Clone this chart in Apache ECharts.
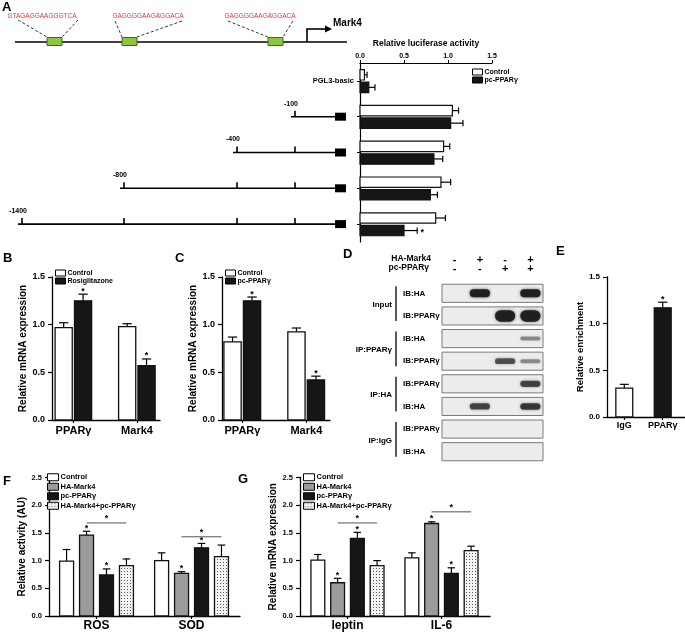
<!DOCTYPE html>
<html><head><meta charset="utf-8">
<script src="https://cdn.jsdelivr.net/npm/echarts@6.0.0/dist/echarts.min.js"></script>
<style>html,body{margin:0;padding:0;background:#fff;}#c{width:685px;height:635px;}</style>
</head><body><div id="c"></div>
<script>
// ===================== DATA =====================
// Panel A
const aRows = ['PGL3-basic', '-100', '-400', '-800', '-1400'];
const aControl = [0.05, 1.05, 0.95, 0.92, 0.86];
const aControlErr = [0.03, 0.07, 0.07, 0.11, 0.11];
const aPc = [0.10, 1.03, 0.84, 0.80, 0.50];
const aPcErr = [0.07, 0.14, 0.10, 0.08, 0.15];
const aPcStar = [0, 0, 0, 0, 1];
const promoterSites = ['GTAGAGGAAGGGTCA', 'GAGGGGAAGAGGACA', 'GAGGGGAAGAGGACA'];
const constructLabels = ['-100', '-400', '-800', '-1400'];
// Panel B
const bCats = ['PPARγ', 'Mark4'];
const bControl = [0.97, 0.98], bControlErr = [0.05, 0.03];
const bRosi = [1.25, 0.57], bRosiErr = [0.07, 0.07], bRosiStar = [1, 1];
// Panel C
const cCats = ['PPARγ', 'Mark4'];
const cControl = [0.82, 0.925], cControlErr = [0.05, 0.04];
const cPc = [1.25, 0.42], cPcErr = [0.04, 0.04], cPcStar = [1, 1];
// Panel D (co-IP blot)
const laneHA = ['-', '+', '-', '+'];
const lanePC = ['-', '-', '+', '+'];
const blotRows = ['IB:HA', 'IB:PPARγ', 'IB:HA', 'IB:PPARγ', 'IB:PPARγ', 'IB:HA', 'IB:PPARγ', 'IB:HA'];
const blotGroups = [['Input', 0, 1], ['IP:PPARγ', 2, 3], ['IP:HA', 4, 5], ['IP:IgG', 6, 7]];
const blotBands = [ // [lane, row, signal]
  [1, 0, 0.55], [3, 0, 0.55],
  [2, 1, 0.95], [3, 1, 0.95],
  [3, 2, 0.10],
  [2, 3, 0.30], [3, 3, 0.10],
  [3, 4, 0.35],
  [1, 5, 0.35], [3, 5, 0.40]
];
// Panel E
const eCats = ['IgG', 'PPARγ'];
const eValues = [0.31, 1.17], eErr = [0.04, 0.06], eStar = [0, 1];
// Panel F
const fCats = ['ROS', 'SOD'];
const fControl = [0.99, 1.00], fControlErr = [0.21, 0.14];
const fHA = [1.46, 0.77], fHAErr = [0.07, 0.03], fHAStar = [1, 1];
const fPc = [0.74, 1.23], fPcErr = [0.11, 0.08], fPcStar = [1, 1];
const fCombo = [0.91, 1.07], fComboErr = [0.12, 0.21];
const fSig = [[0, 1, 3, 1.68], [1, 1, 3, 1.43]]; // [category, fromBar, toBar, level]
// Panel G
const gCats = ['leptin', 'IL-6'];
const gControl = [1.01, 1.05], gControlErr = [0.10, 0.09];
const gHA = [0.60, 1.67], gHAErr = [0.08, 0.03], gHAStar = [1, 1];
const gPc = [1.40, 0.77], gPcErr = [0.11, 0.10], gPcStar = [1, 1];
const gCombo = [0.91, 1.18], gComboErr = [0.09, 0.08];
const gSig = [[0, 1, 3, 1.68], [1, 1, 3, 1.88]];

// ===================== STYLE =====================
const FONT = '"Liberation Sans", Arial, sans-serif';
const WHITE = '#ffffff', BLACK = '#161616', GREY = '#9c9c9c';
const pat = document.createElement('canvas'); pat.width = 3; pat.height = 3;
(function () { const c = pat.getContext('2d'); c.fillStyle = '#f4f4f4'; c.fillRect(0, 0, 3, 3); c.fillStyle = '#555'; c.fillRect(1, 1, 1, 1); })();
const DOTS = { image: pat, repeat: 'repeat' };

const chart = echarts.init(document.getElementById('c'));

function starText(x, y) {
  return { type: 'text', x: x, y: y, style: { text: '*', align: 'center', verticalAlign: 'middle', textAlign: 'center', textVerticalAlign: 'middle', fontSize: 9, fontWeight: 'bold', fill: '#000', fontFamily: FONT } };
}

function vbar(name, gi, vals, errs, stars, off, w, fill) {
  return {
    type: 'custom', name: name, xAxisIndex: gi, yAxisIndex: gi, z: 3,
    data: vals.map((v, i) => [i, v, errs[i], stars ? stars[i] : 0]),
    encode: { x: 0, y: 1 },
    renderItem: function (params, api) {
      const i = params.dataIndex;
      const c = api.value(0), v = api.value(1), e = api.value(2), s = api.value(3);
      const p0 = api.coord([c + off - w / 2, 0]), p1 = api.coord([c + off + w / 2, v]);
      const pm = api.coord([c + off, v]), pt = api.coord([c + off, v + e]);
      const bw = p1[0] - p0[0], cap = bw * 0.27;
      const f = Array.isArray(fill) ? fill[i] : fill;
      const ch = [
        { type: 'line', shape: { x1: pm[0], y1: pm[1], x2: pt[0], y2: pt[1] }, style: { stroke: '#000', lineWidth: 1.2 } },
        { type: 'line', shape: { x1: pt[0] - cap, y1: pt[1], x2: pt[0] + cap, y2: pt[1] }, style: { stroke: '#000', lineWidth: 1.2 } },
        { type: 'rect', shape: { x: p0[0], y: p1[1], width: bw, height: p0[1] - p1[1] }, style: { fill: f, stroke: '#111', lineWidth: 1.3 } }
      ];
      if (s) ch.push(starText(pt[0], pt[1] - 3));
      return { type: 'group', children: ch };
    }
  };
}

function sigSeries(gi, sig, offs) {
  return {
    type: 'custom', xAxisIndex: gi, yAxisIndex: gi, z: 4,
    data: sig, encode: { x: 0, y: 3 },
    renderItem: function (params, api) {
      const c = api.value(0), a = api.value(1), b = api.value(2), lv = api.value(3);
      const pa = api.coord([c + offs[a], lv]), pb = api.coord([c + offs[b], lv]);
      return { type: 'group', children: [
        { type: 'line', shape: { x1: pa[0], y1: pa[1], x2: pb[0], y2: pb[1] }, style: { stroke: '#555', lineWidth: 1 } },
        starText((pa[0] + pb[0]) / 2, pa[1] - 4)
      ] };
    }
  };
}

function hbar(name, vals, errs, stars, off, h, fill) {
  return {
    type: 'custom', name: name, xAxisIndex: 0, yAxisIndex: 0, z: 3,
    data: vals.map((v, i) => [v, i, errs[i], stars ? stars[i] : 0]),
    encode: { x: 0, y: 1 },
    renderItem: function (params, api) {
      const v = api.value(0), r = api.value(1), e = api.value(2), s = api.value(3);
      const band = api.size([0, 1])[1];
      const p0 = api.coord([0, r]), p1 = api.coord([v, r]), pe = api.coord([v + e, r]);
      const yc = p0[1] + off * band, hh = h * band;
      const ch = [
        { type: 'line', shape: { x1: p1[0], y1: yc, x2: pe[0], y2: yc }, style: { stroke: '#000', lineWidth: 1.2 } },
        { type: 'line', shape: { x1: pe[0], y1: yc - hh * 0.3, x2: pe[0], y2: yc + hh * 0.3 }, style: { stroke: '#000', lineWidth: 1.2 } },
        { type: 'rect', shape: { x: p0[0], y: yc - hh / 2, width: p1[0] - p0[0], height: hh }, style: { fill: fill, stroke: '#111', lineWidth: 1.2 } }
      ];
      if (s) ch.push(starText(pe[0] + 5, yc + 2));
      return { type: 'group', children: ch };
    }
  };
}

function yVal(gi, max, name, gap, nameSize, labSize) {
  return {
    gridIndex: gi, type: 'value', min: 0, max: max, interval: 0.5,
    axisLine: { show: true, onZero: false, lineStyle: { color: '#000', width: 1.3 } },
    axisTick: { show: true, length: 4, lineStyle: { color: '#000', width: 1.2 } },
    axisLabel: { formatter: v => v.toFixed(1), fontSize: labSize, fontWeight: 'bold', color: '#000', margin: 7, fontFamily: FONT },
    splitLine: { show: false },
    name: name, nameLocation: 'middle', nameGap: gap,
    nameTextStyle: { fontSize: nameSize, fontWeight: 'bold', color: '#000', fontFamily: FONT }
  };
}
function xCat(gi, cats, min, max, size, margin) {
  return {
    gridIndex: gi, type: 'value', min: min, max: max,
    axisLine: { show: true, onZero: false, lineStyle: { color: '#000', width: 1.3 } },
    axisTick: { show: true, length: 3, customValues: cats.map((c, i) => i), lineStyle: { color: '#000', width: 1.2 } },
    axisLabel: { customValues: cats.map((c, i) => i), formatter: v => cats[Math.round(v)], fontSize: size, fontWeight: 'bold', color: '#000', margin: margin, fontFamily: FONT },
    splitLine: { show: false }
  };
}
function legendItem(name, color) {
  return { name: name, itemStyle: { color: color, borderColor: '#000', borderWidth: 1 } };
}
function legendBox(left, top, items, w, h, gap, size) {
  return {
    left: left, top: top, orient: 'vertical', padding: 0, itemGap: gap, itemWidth: w, itemHeight: h,
    icon: 'rect', selectedMode: false, data: items,
    textStyle: { fontSize: size, fontWeight: 'bold', color: '#000', fontFamily: FONT, lineHeight: size + 1, padding: [0, 0, 0, -3] }
  };
}

const O2 = [-0.155, 0.15], W2 = 0.27;
const O4 = [-0.315, -0.105, 0.105, 0.315], W4 = 0.147;

const option = {
  animation: false,
  textStyle: { fontFamily: FONT, color: '#000' },
  grid: [
    { left: 360, top: 63, width: 132, height: 179 },      // 0 A
    { left: 52, top: 277, width: 108, height: 143 },      // 1 B
    { left: 222, top: 277, width: 108, height: 143 },     // 2 C
    { left: 442, top: 282, width: 101, height: 181 },     // 3 D
    { left: 607, top: 277, width: 78, height: 140 },      // 4 E
    { left: 49, top: 477.5, width: 191, height: 138.5 },  // 5 F
    { left: 300, top: 477.5, width: 190, height: 138.5 }  // 6 G
  ],
  xAxis: [
    { gridIndex: 0, type: 'value', position: 'top', min: 0, max: 1.5, interval: 0.5,
      axisLine: { show: true, onZero: false, lineStyle: { color: '#000', width: 1.2 } },
      axisTick: { show: true, length: 3, lineStyle: { color: '#000' } },
      axisLabel: { formatter: v => v.toFixed(1), fontSize: 7, fontWeight: 'bold', color: '#000', margin: 3 },
      splitLine: { show: false },
      name: 'Relative luciferase activity', nameLocation: 'middle', nameGap: 15,
      nameTextStyle: { fontSize: 8.5, fontWeight: 'bold', color: '#000' } },
    xCat(1, bCats, -0.339, 1.362, 11, 5),
    xCat(2, cCats, -0.32, 1.37, 11, 5),
    { gridIndex: 3, type: 'category', position: 'top', data: laneHA.map((v, i) => String(i)),
      axisLine: { show: false }, axisTick: { show: false },
      axisLabel: { interval: 0, formatter: (v, i) => laneHA[i] + '\n' + lanePC[i], fontSize: 11, fontWeight: 'bold', color: '#000', lineHeight: 9, margin: 9 } },
    xCat(4, eCats, -0.45, 1.58, 9, 4),
    xCat(5, fCats, -0.5, 1.51, 12, 4),
    xCat(6, gCats, -0.505, 1.516, 12, 4)
  ],
  yAxis: [
    { gridIndex: 0, type: 'category', inverse: true, data: aRows,
      axisLine: { show: true, onZero: false, lineStyle: { color: '#000', width: 1.2 } },
      axisTick: { show: true, alignWithLabel: true, interval: 0, length: 3, lineStyle: { color: '#000' } },
      axisLabel: { interval: 0, formatter: (v, i) => i === 0 ? v : '', fontSize: 7.5, fontWeight: 'bold', color: '#000', margin: 6 } },
    yVal(1, 1.5, 'Relative mRNA expression', 21, 10, 9),
    yVal(2, 1.5, 'Relative mRNA expression', 22, 10, 9),
    { gridIndex: 3, type: 'category', inverse: true, data: blotRows.map((v, i) => String(i)),
      axisLine: { show: false }, axisTick: { show: false },
      axisLabel: { interval: 0, formatter: (v, i) => blotRows[i], align: 'left', margin: 39, fontSize: 8, fontWeight: 'bold', color: '#000' } },
    yVal(4, 1.5, 'Relative enrichment', 16, 9.5, 8),
    yVal(5, 2.5, 'Relative activity (AU)', 20, 10, 7.5),
    yVal(6, 2.5, 'Relative mRNA expression', 21, 10, 7.5)
  ],
  legend: [
    legendBox(472, 68, [legendItem('Control', WHITE), legendItem('pc-PPARγ', BLACK)], 10, 6, 0, 7),
    legendBox(55, 269, [legendItem('Control', WHITE), legendItem('Rosiglitazone', BLACK)], 10, 6, 0, 7),
    legendBox(225, 269, [legendItem('Control', WHITE), legendItem('pc-PPARγ', BLACK)], 10, 6, 0, 7),
    legendBox(47, 473, [legendItem('Control', WHITE), legendItem('HA-Mark4', GREY), legendItem('pc-PPARγ', BLACK), legendItem('HA-Mark4+pc-PPARγ', DOTS)], 11, 7, 1, 7.5),
    legendBox(303, 473, [legendItem('Control', WHITE), legendItem('HA-Mark4', GREY), legendItem('pc-PPARγ', BLACK), legendItem('HA-Mark4+pc-PPARγ', DOTS)], 11, 7, 1, 7.5)
  ],
  series: [
    hbar('Control', aControl, aControlErr, null, -0.17, 0.29, WHITE),
    hbar('pc-PPARγ', aPc, aPcErr, aPcStar, 0.18, 0.29, BLACK),
    vbar('Control', 1, bControl, bControlErr, null, O2[0], W2, WHITE),
    vbar('Rosiglitazone', 1, bRosi, bRosiErr, bRosiStar, O2[1], W2, BLACK),
    vbar('Control', 2, cControl, cControlErr, null, O2[0], W2, WHITE),
    vbar('pc-PPARγ', 2, cPc, cPcErr, cPcStar, O2[1], W2, BLACK),
    // blot boxes
    { type: 'custom', xAxisIndex: 3, yAxisIndex: 3, z: 2,
      data: blotRows.map((r, i) => [0, i]), encode: { x: 0, y: 1 },
      renderItem: function (params, api) {
        const p = api.coord([0, api.value(1)]), band = api.size([0, 1])[1], cs = params.coordSys;
        return { type: 'rect', shape: { x: cs.x, y: p[1] - band * 0.4, width: cs.width, height: band * 0.8 },
          style: { fill: '#ececec', stroke: '#7a7a7a', lineWidth: 1 } };
      } },
    // blot bands
    { type: 'custom', xAxisIndex: 3, yAxisIndex: 3, z: 3,
      data: blotBands, encode: { x: 0, y: 1 },
      renderItem: function (params, api) {
        const p = api.coord([api.value(0), api.value(1)]), s = api.value(2);
        const w = api.size([1, 0])[0] * 0.8, h = 3 + 9 * s, a = Math.min(0.95, 0.3 + 1.2 * s);
        return { type: 'rect', shape: { x: p[0] - w / 2, y: p[1] - h / 2, width: w, height: h, r: h / 2 },
          style: { fill: 'rgba(28,28,28,' + a + ')', shadowBlur: 3, shadowColor: 'rgba(28,28,28,' + (a * 0.8) + ')' } };
      } },
    vbar('E', 4, eValues, eErr, eStar, 0, 0.44, [WHITE, BLACK]),
    vbar('Control', 5, fControl, fControlErr, null, O4[0], W4, WHITE),
    vbar('HA-Mark4', 5, fHA, fHAErr, fHAStar, O4[1], W4, GREY),
    vbar('pc-PPARγ', 5, fPc, fPcErr, fPcStar, O4[2], W4, BLACK),
    vbar('HA-Mark4+pc-PPARγ', 5, fCombo, fComboErr, null, O4[3], W4, DOTS),
    sigSeries(5, fSig, O4),
    vbar('Control', 6, gControl, gControlErr, null, O4[0], W4, WHITE),
    vbar('HA-Mark4', 6, gHA, gHAErr, gHAStar, O4[1], W4, GREY),
    vbar('pc-PPARγ', 6, gPc, gPcErr, gPcStar, O4[2], W4, BLACK),
    vbar('HA-Mark4+pc-PPARγ', 6, gCombo, gComboErr, null, O4[3], W4, DOTS),
    sigSeries(6, gSig, O4)
  ]
};
chart.setOption(option);

// ===================== DIAGRAM / LABELS =====================
const g = [];
function txt(s, x, y, size, opt) {
  opt = opt || {};
  g.push({ type: 'text', x: x, y: y, silent: true, style: { text: s, fontSize: size, fontWeight: opt.weight || 'bold', fill: opt.color || '#000', fontFamily: FONT,
    align: opt.align || 'left', verticalAlign: opt.va || 'middle', textAlign: opt.align || 'left', textVerticalAlign: opt.va || 'middle' } });
}
function ln(x1, y1, x2, y2, w, color, dash) {
  g.push({ type: 'line', silent: true, shape: { x1: x1, y1: y1, x2: x2, y2: y2 }, style: { stroke: color || '#000', lineWidth: w || 1.5, lineDash: dash || null } });
}
function box(x, y, w, h, fill, stroke) {
  g.push({ type: 'rect', silent: true, shape: { x: x, y: y, width: w, height: h }, style: { fill: fill, stroke: stroke || null, lineWidth: 1 } });
}
// panel letters
[['A', 2, 7], ['B', 3, 258], ['C', 175, 258], ['D', 343, 254], ['E', 556, 251], ['F', 3, 481], ['G', 238, 479]].forEach(l => txt(l[0], l[1], l[2], 13));

// promoter diagram
ln(15, 42, 347, 42, 1.6);
const siteBoxes = [47, 122, 268], siteText = [42, 148, 260];
const dashL = [[18, 20], [115, 21], [228, 21]], dashR = [[78, 20], [182, 21], [293, 21]];
promoterSites.forEach((s, i) => {
  txt(s, siteText[i], 16, 6.5, { weight: 'normal', color: '#d23c3c', align: 'center' });
  ln(dashL[i][0], dashL[i][1], siteBoxes[i], 37, 1, '#333', [3, 2]);
  ln(dashR[i][0], dashR[i][1], siteBoxes[i] + 15, 37, 1, '#333', [3, 2]);
  box(siteBoxes[i], 37.5, 15, 8, '#8dc63f', '#3f6b1c');
});
ln(307, 42, 307, 29, 1.6); ln(306.2, 29, 327, 29, 1.6);
g.push({ type: 'polygon', silent: true, shape: { points: [[325, 25.5], [332, 29], [325, 32.5]] }, style: { fill: '#000' } });
txt('Mark4', 333, 23, 10);

// construct schematic (rows aligned with panel A categories)
const schemTick = [295, 237, 124, 22], schemEnd = 335;
constructLabels.forEach((lab, k) => {
  const row = aRows.indexOf(lab);
  const y = chart.convertToPixel({ xAxisIndex: 0, yAxisIndex: 0 }, [0, row])[1];
  ln(schemTick[k] - 4, y, schemEnd, y, 1.6);
  for (let j = 0; j <= k; j++) ln(schemTick[j], y - 6, schemTick[j], y, 1.6);
  box(schemEnd, y - 4, 11, 8, '#000');
  txt(lab, schemTick[k] - 4, y - 13, 7, { align: 'center' });
});

// blot header + group labels
txt('HA-Mark4', 431, 259, 8.5, { align: 'right' });
txt('pc-PPARγ', 429, 268, 8.5, { align: 'right' });
blotGroups.forEach(gr => {
  const ya = chart.convertToPixel({ xAxisIndex: 3, yAxisIndex: 3 }, [0, gr[1]])[1];
  const yb = chart.convertToPixel({ xAxisIndex: 3, yAxisIndex: 3 }, [0, gr[2]])[1];
  txt(gr[0], 392, (ya + yb) / 2, 8, { align: 'right' });
  ln(396, ya - 7, 396, yb + 5, 1.3);
});
chart.setOption({ graphic: { elements: g } });
</script>
</body></html>
